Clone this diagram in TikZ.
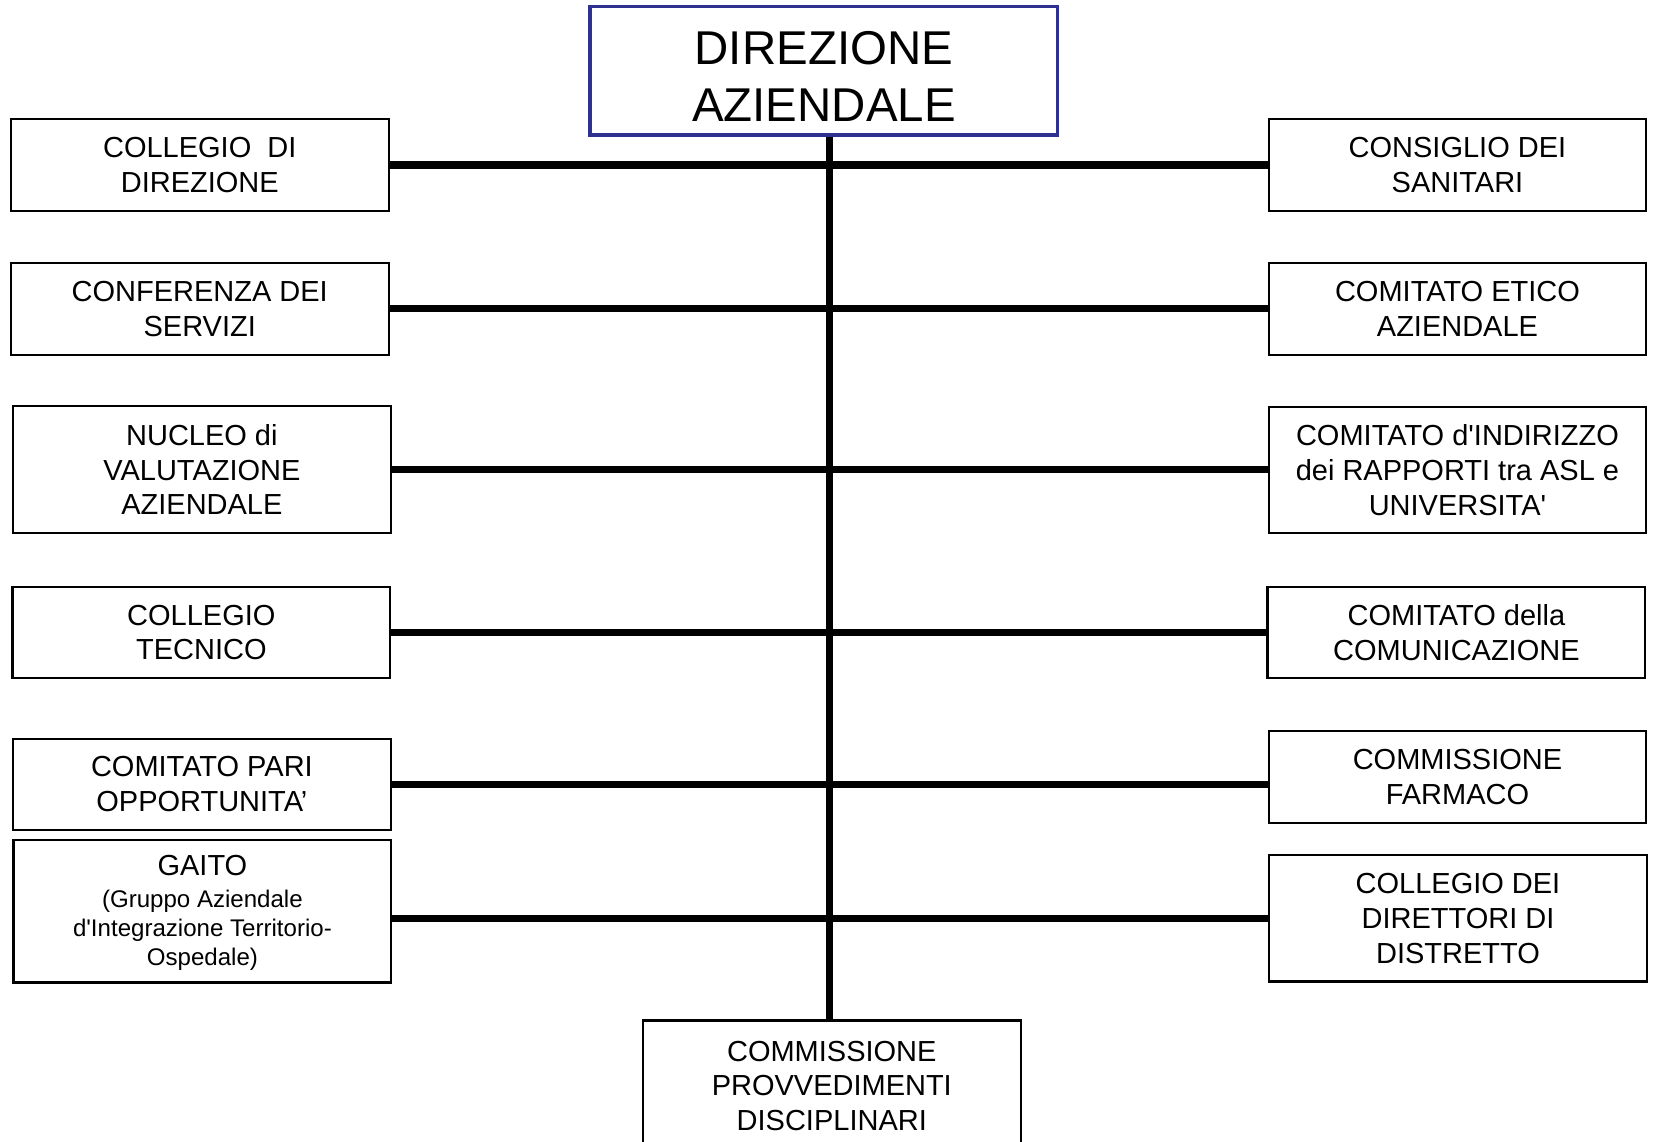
\documentclass[tikz,border=0pt]{standalone}
\usepackage{fontspec}
\setmainfont{Liberation Sans}
\usepackage{xcolor}
\usepackage{tikz}
\definecolor{navy}{RGB}{46,49,146}
\newcommand\unitfont{\fontsize{16.5}{19.8}\selectfont}
\newcommand\headfont{\fontsize{27}{32.4}\selectfont}
\newcommand\notefont{\fontsize{13.7}{16.5}\selectfont}
\tikzset{
  unit/.style={draw=black, line width=1.2pt, fill=white, inner sep=0pt, align=flush center, text width=215pt, font=\unitfont},
  headbox/.style={draw=navy, line width=2pt, fill=white, inner sep=0pt, align=flush center, text width=266pt, minimum height=73pt, text height=25pt, font=\headfont},
  link/.style={black, line width=4pt}
}

\begin{document}
\begin{tikzpicture}[x=0.6pt,y=-0.6pt]
            \useasboundingbox (0,0) rectangle (1568,1083);
            \node [headbox] (dir) at (781.5,67) {DIREZIONE\\AZIENDALE};
            \node [unit, minimum height=52pt] (cdd) at (189.5,156.5) {COLLEGIO \ DI\\DIREZIONE};
            \node [unit, minimum height=52pt] (cds) at (189.5,293) {CONFERENZA DEI\\SERVIZI};
            \node [unit, minimum height=72.6pt] (nva) at (191.5,445.5) {NUCLEO di\\VALUTAZIONE\\AZIENDALE};
            \node [unit, minimum height=52pt] (cte) at (191,600) {COLLEGIO\\TECNICO};
            \node [unit, minimum height=52pt] (cpo) at (191.5,744) {COMITATO PARI\\OPPORTUNITA’};
            \node [unit, minimum height=81pt, text height=13pt] (gai) at (192,864.5) {GAITO\\[1.5pt]\notefont (Gruppo Aziendale\\d\textquotesingle Integrazione Territorio-\\Ospedale)\par};
            \node [unit, minimum height=52pt] (cos) at (1382.5,156.5) {CONSIGLIO DEI\\SANITARI};
            \node [unit, minimum height=52pt] (cea) at (1382.5,293) {COMITATO ETICO\\AZIENDALE};
            \node [unit, minimum height=72pt] (cir) at (1382.5,446) {COMITATO d\textquotesingle INDIRIZZO\\dei RAPPORTI tra ASL e\\UNIVERSITA\textquotesingle};
            \node [unit, minimum height=52pt] (cco) at (1381.5,600) {COMITATO della\\COMUNICAZIONE};
            \node [unit, minimum height=52pt] (cfa) at (1382.5,737) {COMMISSIONE\\FARMACO};
            \node [unit, minimum height=72pt] (cdi) at (1383,871) {COLLEGIO DEI\\DIRETTORI DI\\DISTRETTO};
            \node [unit, minimum height=74.4pt] (cpd) at (789,1030) {COMMISSIONE\\PROVVEDIMENTI\\DISCIPLINARI};
            \coordinate (spine) at (787,0);
            \draw [link, line width=4.2pt] (dir.south -| spine) -- (cpd.north -| spine);
            \draw [link] (cdd.east) -- (cdd.east -| cos.west);
            \draw [link] (cds.east) -- (cds.east -| cea.west);
            \draw [link] (nva.east) -- (nva.east -| cir.west);
            \draw [link] (cte.east) -- (cte.east -| cco.west);
            \draw [link] (cpo.east) -- (cpo.east -| cfa.west);
            \draw [link] (gai.east |- cdi.west) -- (cdi.west);
        \end{tikzpicture}
\end{document}
